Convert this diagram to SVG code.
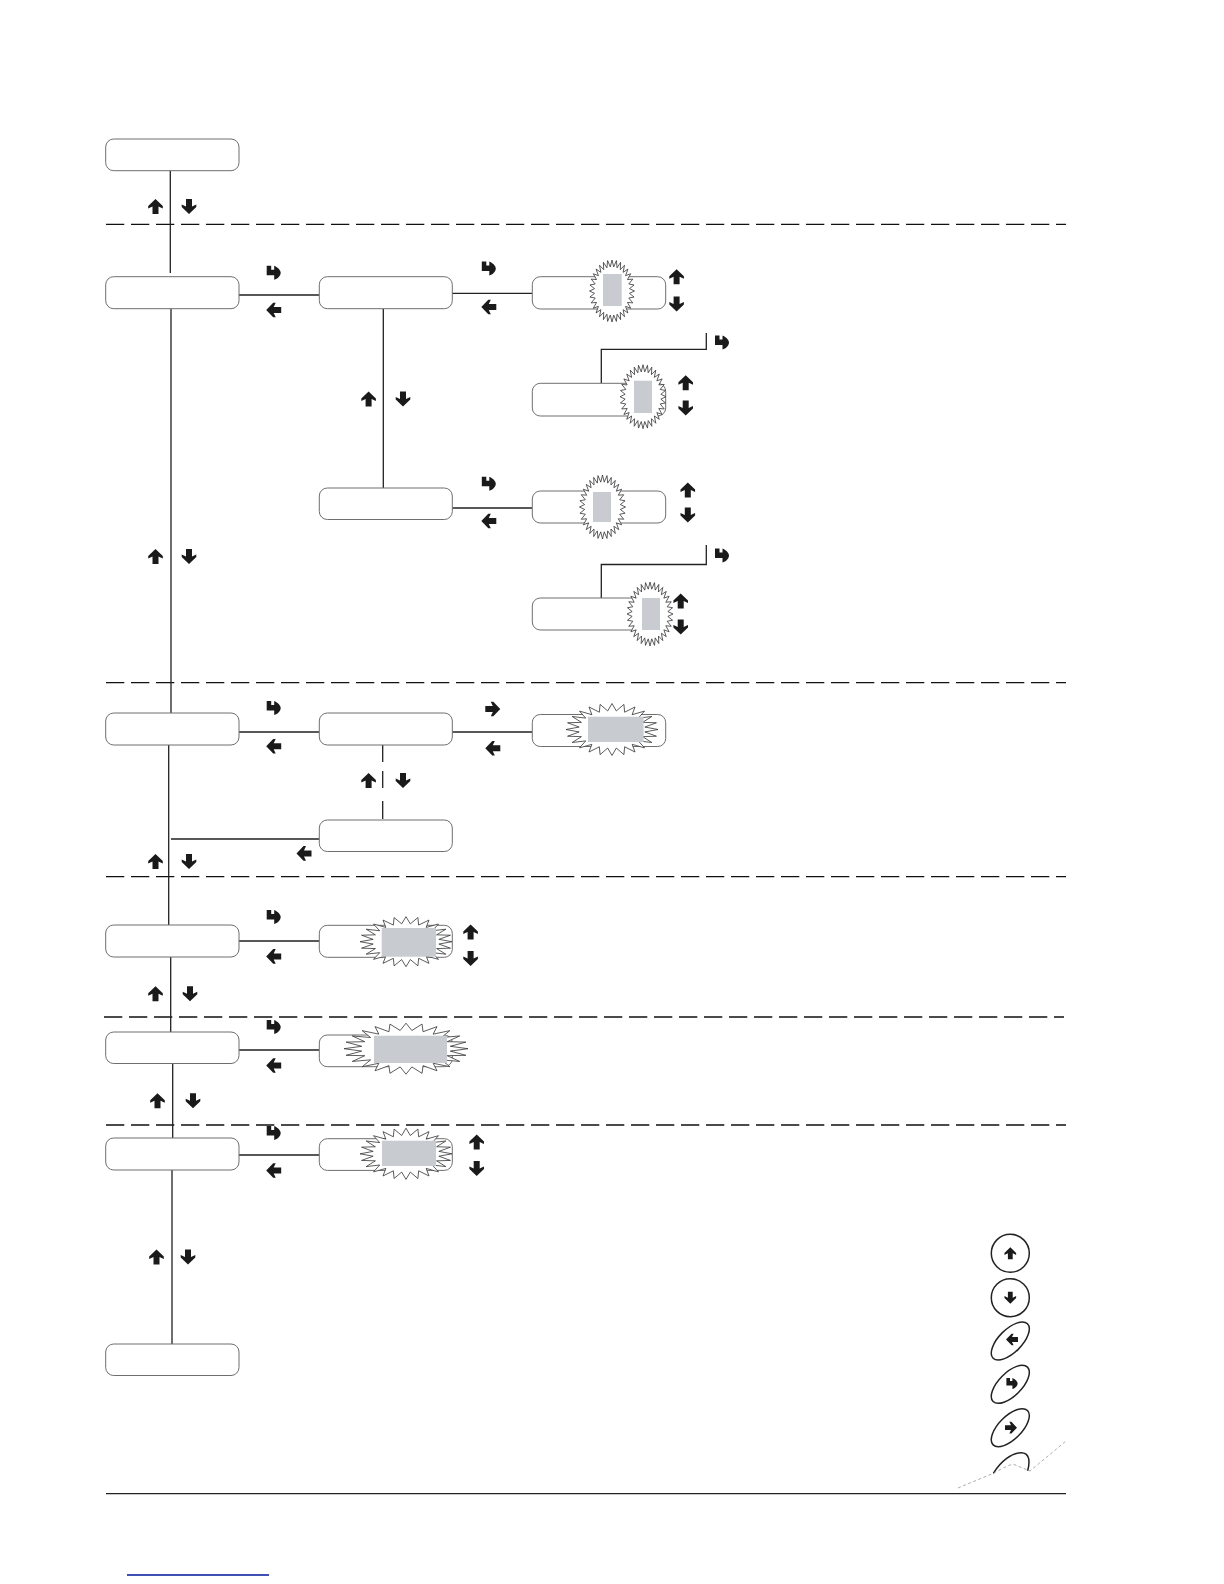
<svg xmlns="http://www.w3.org/2000/svg" xmlns:xlink="http://www.w3.org/1999/xlink" width="1224" height="1584" viewBox="0 0 1224 1584">
<style>
.n{fill:#fff;stroke:#6e6e6e;stroke-width:1}
.c{fill:none;stroke:#222;stroke-width:1.300}
.d{fill:none;stroke:#111;stroke-width:1.300;stroke-dasharray:18.300 6.700}
.a{fill:#1a1a1a}
.s{fill:#fff;stroke:#333;stroke-width:.8;vector-effect:non-scaling-stroke}
.g{fill:#c8ccd0}
.l{fill:#fff;stroke:#222;stroke-width:1.500}
</style>
<defs>
<path id="up" class="a" d="M0-7.500L7.300-.5V2L3 0V7.500H-3V0L-7.300 2V-.5Z"/>
<use id="dn" href="#up" transform="rotate(180)"/>
<use id="lf" href="#up" transform="rotate(-90)"/>
<use id="rt" href="#up" transform="rotate(90)"/>
<path id="en" class="a" d="M-7-7H-2.500V-3H.5V-7C5-5 7-2 7 0C7 3 4 6 .5 7V2.500H-7Z"/>
<polygon id="s32" class="s" points="1,0 .776,.076 .981,.195 .746,.226 .924,.383 .688,.368 .831,.556 .603,.495 .707,.707 .495,.603 .556,.831 .368,.688 .383,.924 .226,.746 .195,.981 .076,.776 0,1 -.076,.776 -.195,.981 -.226,.746 -.383,.924 -.368,.688 -.556,.831 -.495,.603 -.707,.707 -.603,.495 -.831,.556 -.688,.368 -.924,.383 -.746,.226 -.981,.195 -.776,.076 -1,0 -.776,-.076 -.981,-.195 -.746,-.226 -.924,-.383 -.688,-.368 -.831,-.556 -.603,-.495 -.707,-.707 -.495,-.603 -.556,-.831 -.368,-.688 -.383,-.924 -.226,-.746 -.195,-.981 -.076,-.776 0,-1 .076,-.776 .195,-.981 .226,-.746 .383,-.924 .368,-.688 .556,-.831 .495,-.603 .707,-.707 .603,-.495 .831,-.556 .688,-.368 .924,-.383 .746,-.226 .981,-.195 .776,-.076"/>
<polygon id="s24" class="s" points="1,0 .714,.094 .966,.259 .665,.275 .866,.5 .571,.438 .707,.707 .438,.571 .5,.866 .275,.665 .259,.966 .094,.714 0,1 -.094,.714 -.259,.966 -.275,.665 -.5,.866 -.438,.571 -.707,.707 -.571,.438 -.866,.5 -.665,.275 -.966,.259 -.714,.094 -1,0 -.714,-.094 -.966,-.259 -.665,-.275 -.866,-.5 -.571,-.438 -.707,-.707 -.438,-.571 -.5,-.866 -.275,-.665 -.259,-.966 -.094,-.714 0,-1 .094,-.714 .259,-.966 .275,-.665 .5,-.866 .438,-.571 .707,-.707 .571,-.438 .866,-.5 .665,-.275 .966,-.259 .714,-.094"/>
</defs>
<g id="section-lines">
<path class="d" d="M106 224.300H1066M106 682.700H1066M106 876.600H1066M104 1017H1064M106 1125H1066"/>
<path class="c" d="M106 1493.700H1066"/>
<path d="M127 1575H269" fill="none" stroke="#00159a" stroke-width="1.300"/>
</g>
<g id="connectors">
<path class="c" d="M170.300 170.700V273M171 308V713M168.700 745V925M170.700 956V1032M172.700 1063V1138M172 1170V1344"/>
<path class="c" d="M239 295H319M452 293.300H532M383.300 308.700V488M452 508H532M601.300 383V349.300H706.300V333M601.300 598V564.500H706.300V545"/>
<path class="c" d="M239 732H319M452 732H532M382.700 745V762M382.700 771V788M382.700 801V819M171 839H319M239 941H319M239 1050H319M239 1155H319"/>
</g>
<g id="n1"><rect class="n" x="105.700" y="139" width="133.300" height="31.700" rx="8"/></g>
<g id="n2"><rect class="n" x="105.700" y="276.700" width="133.300" height="32" rx="8"/></g>
<g id="n3"><rect class="n" x="319.300" y="276.700" width="133" height="32" rx="8"/></g>
<g id="n4"><rect class="n" x="532.300" y="276.700" width="133.400" height="32.300" rx="8"/><use href="#s32" transform="translate(612 291) scale(22.500 31)"/><rect class="g" x="603" y="274" width="18.700" height="32"/></g>
<g id="n5"><rect class="n" x="532.300" y="383.300" width="133.400" height="32.700" rx="8"/><use href="#s32" transform="translate(643 396.700) scale(23 32)"/><rect class="g" x="634" y="380.700" width="18" height="32.300"/></g>
<g id="n6"><rect class="n" x="319.300" y="488" width="133" height="31.500" rx="8"/></g>
<g id="n7"><rect class="n" x="532.300" y="491" width="133.400" height="32" rx="8"/><use href="#s32" transform="translate(602.500 507) scale(23 32)"/><rect class="g" x="593" y="492" width="18" height="30"/></g>
<g id="n8"><rect class="n" x="532.300" y="598" width="133.400" height="32" rx="8"/><use href="#s32" transform="translate(650 614) scale(23 32)"/><rect class="g" x="642" y="598" width="18" height="32"/></g>
<g id="n9"><rect class="n" x="105.700" y="713" width="133.300" height="32" rx="8"/></g>
<g id="n10"><rect class="n" x="319.300" y="713" width="133" height="32" rx="8"/></g>
<g id="n11"><rect class="n" x="532.300" y="714.500" width="133.400" height="32" rx="8"/><use href="#s24" transform="translate(612 729.500) scale(46 26)"/><rect class="g" x="588" y="716.700" width="55.600" height="25.300"/></g>
<g id="n12"><rect class="n" x="319.300" y="820" width="133" height="31.500" rx="8"/></g>
<g id="n13"><rect class="n" x="105.700" y="925" width="133.300" height="32" rx="8"/></g>
<g id="n14"><rect class="n" x="319.300" y="925.300" width="133" height="32" rx="8"/><use href="#s24" transform="translate(406 941.700) scale(46 25)"/><rect class="g" x="381.700" y="928" width="54.300" height="28.700"/></g>
<g id="n15"><rect class="n" x="105.700" y="1032" width="133.300" height="31.500" rx="8"/></g>
<g id="n16"><rect class="n" x="319.300" y="1035" width="133" height="31.700" rx="8"/><use href="#s24" transform="translate(406 1048.700) scale(62 25.500)"/><rect class="g" x="374" y="1035.700" width="73" height="27.300"/></g>
<g id="n17"><rect class="n" x="105.700" y="1138" width="133.300" height="32" rx="8"/></g>
<g id="n18"><rect class="n" x="319.300" y="1138.700" width="133" height="31.700" rx="8"/><use href="#s24" transform="translate(406 1153.800) scale(46 25.600)"/><rect class="g" x="382" y="1140.700" width="54" height="25.300"/></g>
<g id="n19"><rect class="n" x="105.700" y="1344" width="133.300" height="31.500" rx="8"/></g>
<g id="arrows">
<use href="#up" x="155.500" y="206.500"/><use href="#dn" transform="translate(189 206.500)"/>
<use href="#en" x="273.700" y="272.700"/><use href="#lf" transform="translate(273.700 310)"/>
<use href="#en" x="488.800" y="268.600"/><use href="#lf" transform="translate(488.800 307)"/>
<use href="#up" x="676.600" y="276.700"/><use href="#dn" transform="translate(676.600 304)"/>
<use href="#en" x="722" y="342.400"/>
<use href="#up" x="685.700" y="382.700"/><use href="#dn" transform="translate(685.700 408)"/>
<use href="#up" x="368.600" y="399"/><use href="#dn" transform="translate(403 399)"/>
<use href="#en" x="488.800" y="483.700"/><use href="#lf" transform="translate(488.800 521)"/>
<use href="#up" x="687.800" y="490"/><use href="#dn" transform="translate(687.800 515)"/>
<use href="#en" x="722" y="555.500"/>
<use href="#up" x="680.700" y="601"/><use href="#dn" transform="translate(680.700 627)"/>
<use href="#up" x="155.500" y="556.500"/><use href="#dn" transform="translate(189 556.500)"/>
<use href="#en" x="273.700" y="708"/><use href="#lf" transform="translate(273.700 746.300)"/>
<use href="#rt" transform="translate(492.800 709)"/><use href="#lf" transform="translate(492.800 748.300)"/>
<use href="#up" x="368.600" y="780.600"/><use href="#dn" transform="translate(403 780.600)"/>
<use href="#lf" transform="translate(304 853.400)"/>
<use href="#up" x="155.500" y="861.500"/><use href="#dn" transform="translate(189 861.500)"/>
<use href="#en" x="273.700" y="917"/><use href="#lf" transform="translate(273.700 956.400)"/>
<use href="#up" x="470.600" y="932"/><use href="#dn" transform="translate(470.600 958.400)"/>
<use href="#up" x="155.500" y="993.700"/><use href="#dn" transform="translate(190 993.700)"/>
<use href="#en" x="273.700" y="1027"/><use href="#lf" transform="translate(273.700 1065.500)"/>
<use href="#up" x="157.500" y="1100.800"/><use href="#dn" transform="translate(193 1100.800)"/>
<use href="#en" x="273.700" y="1133"/><use href="#lf" transform="translate(273.700 1170.500)"/>
<use href="#up" x="476.700" y="1142"/><use href="#dn" transform="translate(476.700 1168.500)"/>
<use href="#up" x="156.500" y="1257"/><use href="#dn" transform="translate(188 1257)"/>
</g>
<g id="legend">
<circle class="l" cx="1010.300" cy="1253.300" r="19"/><use href="#up" transform="translate(1010.300 1253.300) scale(.8)"/>
<circle class="l" cx="1010.300" cy="1297.700" r="19"/><use href="#dn" transform="translate(1010.300 1297.700) scale(.8)"/>
<ellipse class="l" cx="1010.300" cy="1341" rx="24.300" ry="11.500" transform="rotate(-45 1010.300 1341)"/><use href="#lf" transform="translate(1012 1339.500) scale(.8)"/>
<ellipse class="l" cx="1010.300" cy="1384.300" rx="24.300" ry="11.500" transform="rotate(-45 1010.300 1384.300)"/><use href="#en" transform="translate(1012 1383.500) scale(.8)"/>
<ellipse class="l" cx="1010.300" cy="1427.700" rx="24.300" ry="11.500" transform="rotate(-45 1010.300 1427.700)"/><use href="#rt" transform="translate(1011 1427.700) scale(.8)"/>
<path class="l" style="fill:none" d="M993.300 1473.300C1001 1461 1012 1452.700 1021 1452.700C1030 1452.700 1030 1462 1027.700 1470.700"/>
<path d="M958 1488L993.300 1473.300C1003 1468 1010 1464 1014 1464.500L1030 1471L1066 1441" fill="none" stroke="#888" stroke-width=".7" stroke-dasharray="3 2.500"/>
</g>
</svg>
